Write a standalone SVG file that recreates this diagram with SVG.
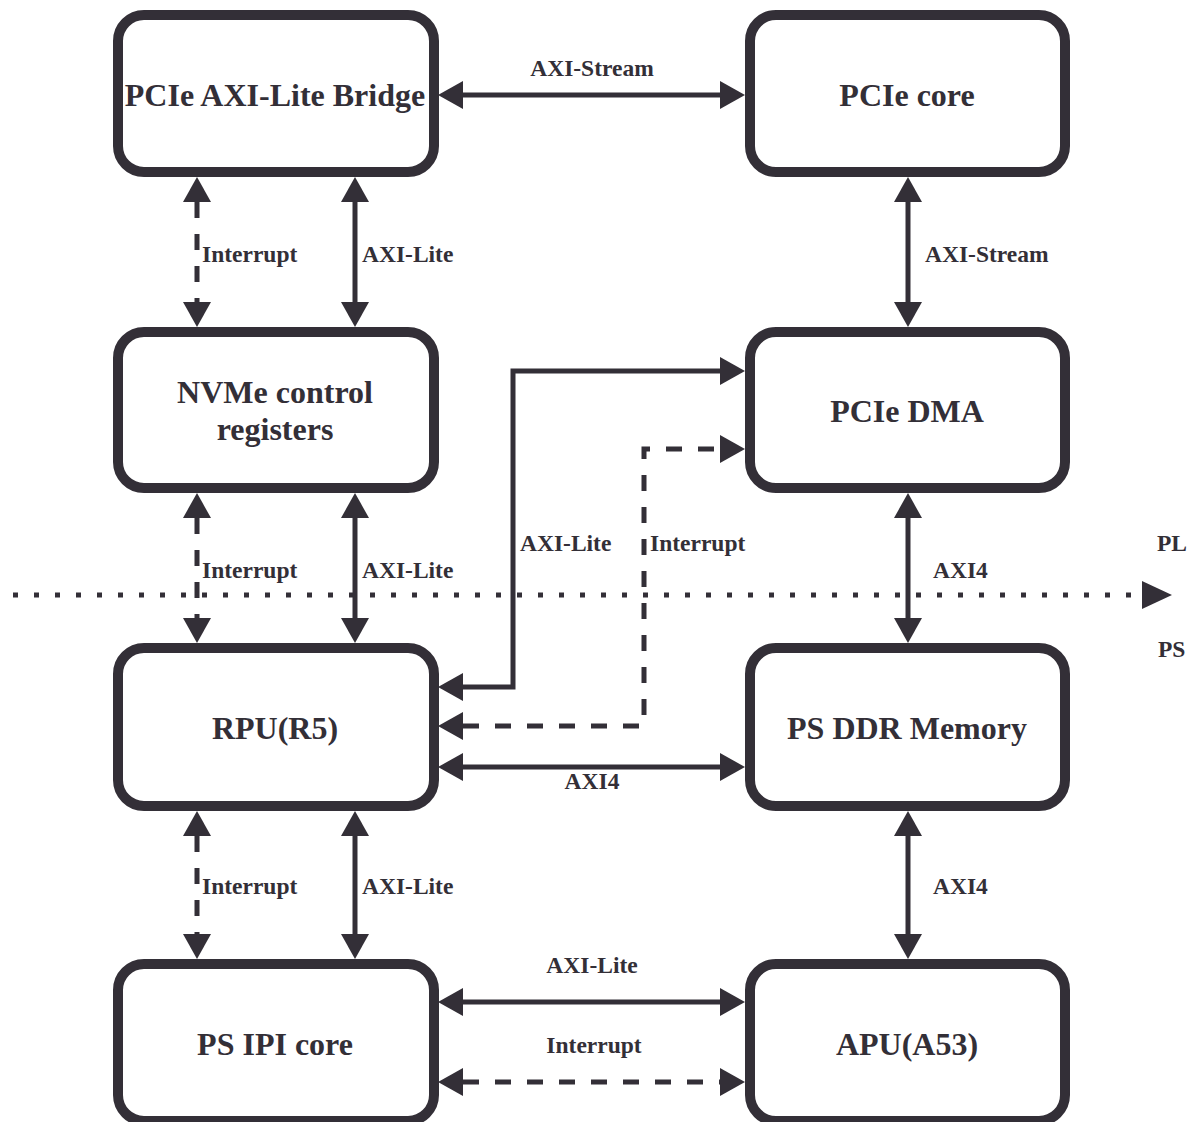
<svg xmlns="http://www.w3.org/2000/svg" width="1197" height="1122" viewBox="0 0 1197 1122">
  <defs>
    <marker id="tip" markerUnits="userSpaceOnUse" markerWidth="26" markerHeight="30" viewBox="0 -15 26 30" refX="0" refY="0" orient="auto-start-reverse">
      <path d="M0,-14 L25,0 L0,14 Z" fill="#332f37"/>
    </marker>
    <style>
      .box { fill: #ffffff; stroke: #332f37; stroke-width: 10; }
      .title { font-family: "Liberation Serif", "Times New Roman", serif; font-weight: bold; font-size: 32px; fill: #332f37; text-anchor: middle; }
      .lbl { font-family: "Liberation Serif", "Times New Roman", serif; font-weight: bold; font-size: 23.5px; fill: #332f37; }
      .mid { text-anchor: middle; }
      .wire { fill: none; stroke: #332f37; stroke-width: 5; marker-start: url(#tip); marker-end: url(#tip); }
      .dash { stroke-dasharray: 16 16; }
    </style>
  </defs>

  <rect width="1197" height="1122" fill="#ffffff"/>

  <!-- PL / PS boundary -->
  <g id="boundary">
    <line x1="13" y1="595" x2="1142" y2="595" stroke="#332f37" stroke-width="5" stroke-dasharray="5 16"/>
    <path d="M1142,581 L1172,595 L1142,609 Z" fill="#332f37"/>
    <text class="lbl" x="1157" y="551">PL</text>
    <text class="lbl" x="1158" y="657">PS</text>
  </g>

  <!-- Connectors -->
  <g id="connectors">
    <line class="wire" x1="463" y1="95" x2="720" y2="95"/>
    <line class="wire dash" x1="197" y1="202" x2="197" y2="302"/>
    <line class="wire" x1="355" y1="202" x2="355" y2="302"/>
    <line class="wire" x1="908" y1="202" x2="908" y2="302"/>

    <line class="wire dash" x1="197" y1="518" x2="197" y2="618"/>
    <line class="wire" x1="355" y1="518" x2="355" y2="618"/>
    <line class="wire" x1="908" y1="518" x2="908" y2="618"/>

    <polyline class="wire" points="463,687 513,687 513,371 720,371"/>
    <polyline class="wire dash" points="463,726 644,726 644,449 720,449"/>
    <line class="wire" x1="463" y1="767" x2="720" y2="767"/>

    <line class="wire dash" x1="197" y1="836" x2="197" y2="934"/>
    <line class="wire" x1="355" y1="836" x2="355" y2="934"/>
    <line class="wire" x1="908" y1="836" x2="908" y2="934"/>

    <line class="wire" x1="463" y1="1002" x2="720" y2="1002"/>
    <line class="wire dash" x1="463" y1="1082" x2="720" y2="1082"/>

    <text class="lbl mid" x="592" y="76">AXI-Stream</text>
    <text class="lbl" x="202" y="262">Interrupt</text>
    <text class="lbl" x="362" y="262">AXI-Lite</text>
    <text class="lbl" x="925" y="262">AXI-Stream</text>
    <text class="lbl" x="520" y="551">AXI-Lite</text>
    <text class="lbl" x="650" y="551">Interrupt</text>
    <text class="lbl" x="202" y="578">Interrupt</text>
    <text class="lbl" x="362" y="578">AXI-Lite</text>
    <text class="lbl" x="933" y="578">AXI4</text>
    <text class="lbl mid" x="592" y="789">AXI4</text>
    <text class="lbl" x="202" y="894">Interrupt</text>
    <text class="lbl" x="362" y="894">AXI-Lite</text>
    <text class="lbl" x="933" y="894">AXI4</text>
    <text class="lbl mid" x="592" y="973">AXI-Lite</text>
    <text class="lbl mid" x="594" y="1053">Interrupt</text>
  </g>

  <!-- Nodes -->
  <g id="pcie-axi-lite-bridge">
    <rect class="box" x="118" y="15" width="316" height="157" rx="26"/>
    <text class="title" x="275" y="106">PCIe AXI-Lite Bridge</text>
  </g>
  <g id="pcie-core">
    <rect class="box" x="750" y="15" width="315" height="157" rx="26"/>
    <text class="title" x="907" y="106">PCIe core</text>
  </g>
  <g id="nvme-control-registers">
    <rect class="box" x="118" y="332" width="316" height="156" rx="26"/>
    <text class="title" x="275" y="403">NVMe control</text>
    <text class="title" x="275" y="440">registers</text>
  </g>
  <g id="pcie-dma">
    <rect class="box" x="750" y="332" width="315" height="156" rx="26"/>
    <text class="title" x="907" y="422">PCIe DMA</text>
  </g>
  <g id="rpu">
    <rect class="box" x="118" y="648" width="316" height="158" rx="26"/>
    <text class="title" x="275" y="739">RPU(R5)</text>
  </g>
  <g id="ps-ddr-memory">
    <rect class="box" x="750" y="648" width="315" height="158" rx="26"/>
    <text class="title" x="907" y="739">PS DDR Memory</text>
  </g>
  <g id="ps-ipi-core">
    <rect class="box" x="118" y="964" width="316" height="157" rx="26"/>
    <text class="title" x="275" y="1055">PS IPI core</text>
  </g>
  <g id="apu">
    <rect class="box" x="750" y="964" width="315" height="157" rx="26"/>
    <text class="title" x="907" y="1055">APU(A53)</text>
  </g>
</svg>
